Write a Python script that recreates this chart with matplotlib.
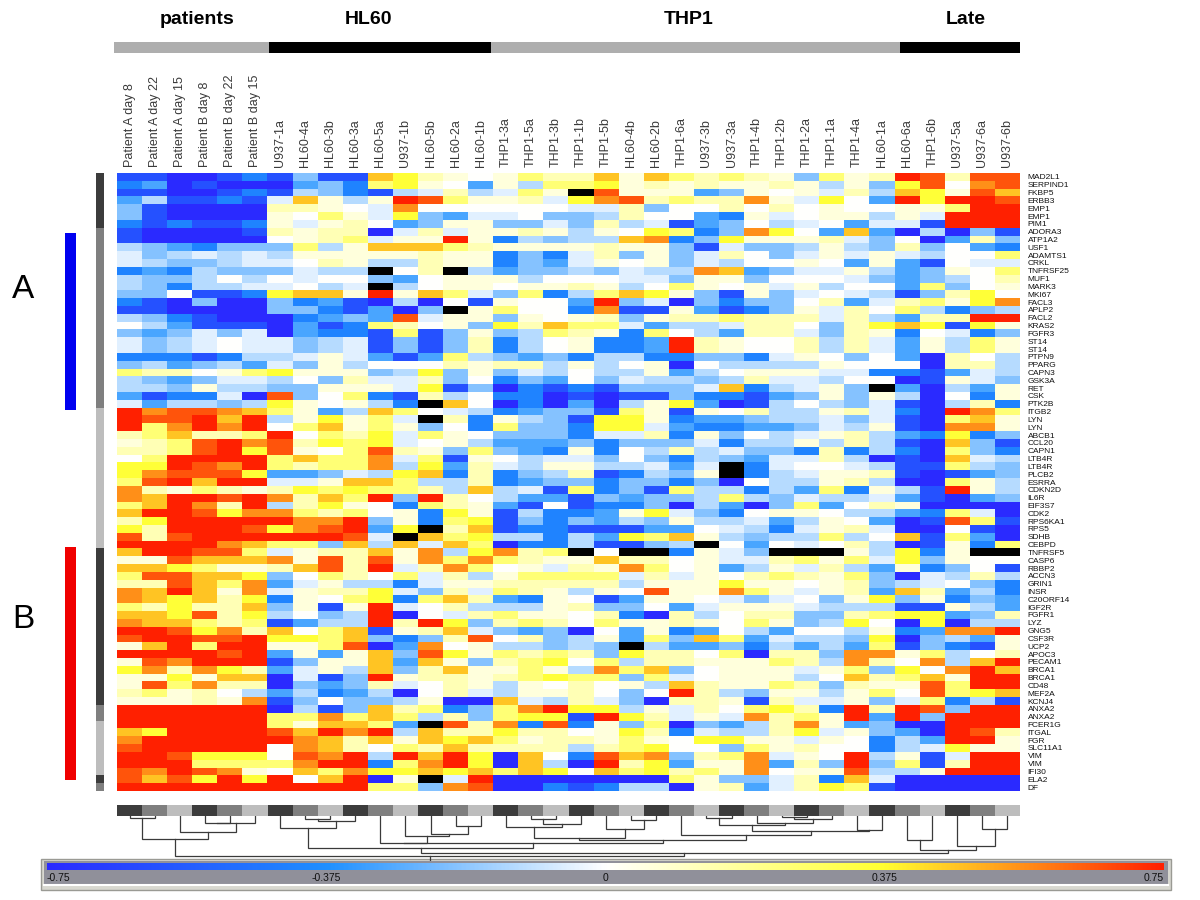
#!/usr/bin/env python3
"""Expression heatmap with sample dendrogram and colour scale."""
import matplotlib
matplotlib.use("Agg")
import matplotlib.pyplot as plt
import numpy as np
from matplotlib.colors import LinearSegmentedColormap
from matplotlib.patches import Rectangle

plt.rcParams["font.family"] = ["Liberation Sans", "DejaVu Sans"]

W, H = 1200, 900

SAMPLES = [
    "Patient A day 8", "Patient A day 22", "Patient A day 15",
    "Patient B day 8", "Patient B day 22", "Patient B day 15",
    "U937-1a", "HL60-4a", "HL60-3b", "HL60-3a", "HL60-5a", "U937-1b",
    "HL60-5b", "HL60-2a", "HL60-1b", "THP1-3a", "THP1-5a", "THP1-3b",
    "THP1-1b", "THP1-5b", "HL60-4b", "HL60-2b", "THP1-6a", "U937-3b",
    "U937-3a", "THP1-4b", "THP1-2b", "THP1-2a", "THP1-1a", "THP1-4a",
    "HL60-1a", "HL60-6a", "THP1-6b", "U937-5a", "U937-6a", "U937-6b",
]

GENES = [
    "MAD2L1", "SERPIND1", "FKBP5", "ERBB3", "EMP1", "EMP1", "PIM1", "ADORA3",
    "ATP1A2", "USF1", "ADAMTS1", "CRKL", "TNFRSF25", "MUF1", "MARK3", "MKI67",
    "FACL3", "APLP2", "FACL2", "KRAS2", "FGFR3", "ST14", "ST14", "PTPN9",
    "PPARG", "CAPN3", "GSK3A", "RET", "CSK", "PTK2B", "ITGB2", "LYN", "LYN",
    "ABCB1", "CCL20", "CAPN1", "LTB4R", "LTB4R", "PLCB2", "ESRRA", "CDKN2D",
    "IL6R", "EIF3S7", "CDK2", "RPS6KA1", "RPS5", "SDHB", "CEBPD", "TNFRSF5",
    "CASP6", "RBBP2", "ACCN3", "GRIN1", "INSR", "C20ORF14", "IGF2R", "FGFR1",
    "LYZ", "GNG5", "CSF3R", "UCP2", "APOC3", "PECAM1", "BRCA1", "BRCA1",
    "CD48", "MEF2A", "KCNJ4", "ANXA2", "ANXA2", "FCER1G", "ITGAL", "FGR",
    "SLC11A1", "VIM", "VIM", "IFI30", "ELA2", "DF",
]

# one letter per cell, X = missing (black)
LEVELS = {
    "A": -0.75, "B": -0.6, "C": -0.42, "D": -0.3, "E": -0.2, "F": -0.12, "G": -0.05,
    "0": 0.0, "1": 0.06, "2": 0.13, "3": 0.25, "4": 0.36, "5": 0.47, "6": 0.56,
    "7": 0.66, "8": 0.75, "X": np.nan,
}

HEAT_ROWS = [
    "BBAABCBEBB54 210132251532 321E31287277",
    "CDABAAADEC34 10D1F3341212 1121F1E47067",
    "BBAABCBFECBF G2FG31X7111D E101G2F54175",
    "DFBBCBG51F18 73112G467232 261G40D84887",
    "EBAAAA2210G6 000000GG2E00 202010011388",
    "EBAAAA1031G4 EDGG0EEF200D C1G011F1G888",
    "CBCBBC1G120D E11EEGE2FGBD E0FG0DGGB888",
    "BAAAAB2122AG 2G1121F1043C E640D5DAFAEB",
    "BAAAAA0123G1 181CFEFF56CE 41112GE0AD2E",
    "FEDCEEE3F155 5321111211EB GEEF1FE2E0DC",
    "GEFGFGF11111 211CECG2E1EG 20EG1G1GF003",
    "GFEEFGG021FF 211CEDG101EG F0010D1DB0GG",
    "CDCFEEEGFFX0 2XFDEEFEGFF6 5DEGG1FDE103",
    "FEEF0F0G00ED 0111F000GGE1 1E000GEDEF02",
    "FECFFGG0FGXF 01101121F031 01G1F00D3E01",
    "EE0BBC455181 53GE3CF3541E B1EG0GFBE240",
    "CBAEAAECDBAF A0B100D8EGAE CEE02DG23146",
    "BBAAAAEECBDA EX1300C6BB1D BCE1G203FCEF",
    "FECBAAACDED7 G11E1012E122 3222G2FD2288",
    "0FDBBBADBC32 01E42533GDFF G220E2454B41",
    "EDEGEGADCCB3 BE1EF321C30F D22GE21C0GCE",
    "GEFG0GGEFGBE BE2CF01CCD82 1002F2GD1F31",
    "GEFG0GGEFGBE BE2CF01CCD82 1002F2GD1F31",
    "CCCBCFFG1GDB D3FEDECFFCCE ECG10E0DA20F",
    "EFDEFDGE1F00 02122F1F01A0 FFFF1000A22F",
    "3220134111EF 4E1EGF0FF1DF 0111GGCCBDGF",
    "FEDEGGF0E2GG 2E0CED0EGFFE F2GGF00AB1GE",
    "FFE1FFEE111G 4BEACBCBEEEG 5CFG1EXDAFD1",
    "DBCCGA7E03CB 2F0CCABABBEC CBDE1E1FA0C1",
    "GDFFEF4101FC X50ACADAF14D ABF0FEGBAF2C",
    "86776531DF53 0GFCDEEB31B1 02FF12GCA863",
    "877858F1413G X2C1FEB441CD DEFFGEGBA351",
    "836868035131 E0C3EEC44GDC CDDEGF1BA661",
    "23522380324G 310EEECGG2C1 E0FG12FDC4CE",
    "12378672434G 01FDDDECEEEG CFF1F2FBA5EB",
    "223784710372 1E3EDC1C0F2F GEEC2CFCA3EC",
    "03888835336G 3B10FGGE0ECF EDGG2FABA5GF",
    "44876832336F 4D2GF11FFGDG XCG00GFBB3FE",
    "467774DDEGF4 5C2CEF2BCFE1 XCFG112BABDE",
    "378588GG1553 FF2CDEECEECE A0FF12FAA31F",
    "621321243433 2F5FGB3CEB3F FCFD3C1FB81F",
    "65887862538E 820FDDBEDEEF 3FEGFFGDBADE",
    "358628F2410C 321DB0BCCEAF DAE3D021AAAA",
    "588746632301 C41BFCCD14GE C0110FFDC3GA",
    "2488888668E1 C34BECEDFE1F FGDF10DAB73B",
    "4288874678D4 X25BCCBBBDD0 GFCG12GAA0BA",
    "7278888887GX 534FFCFD4351 FEFF3F05B3DA",
    "88886533E5F5 G53ACCFBBEFX 0D0G02FAB1C3",
    "588773G12251 6F4623X0XXC1 GEXXX1F4C1XX",
    "117555617271 636321152201 GG2313G4E100",
    "55431125728G 26301G216301 DF1G2FD1CE0B",
    "377554E03203 G2F13333G2G1 023213EAGF2F",
    "227536DG1FFC G1122222F111 411012EFG0EC",
    "658516G1224G E2G321F10711 631G12D52DFC",
    "654524C1034C 352DC10BD110 GEG0E14E1CED",
    "324225E1B18G 02FFF12EE0DG 111GFFFBB1FD",
    "554724F0EF8A 0G231102CA2F 022EE2344DE2",
    "655323BDFF82 84E232031121 031EF40A4AFF",
    "8874625035B1 25GEDEA0D1CD 0FD00F1CD668",
    "7887784435EC E2702EF1D3E5 3DGFFE4AEFD1",
    "1583881137AD 601FFEFEXFDD ECFDFD3BECB1",
    "888878D1D15E 7413232E4220 3A22E6613F02",
    "176888BE115D 51E23403F221 1132F6206F58",
    "462642DG1F5E 251131F635E0 111G13E40685",
    "114155AGBE81 22123433E3G0 111F05235188",
    "173622AEDE2G 021F10201F52 1132E2117388",
    "23120FDFCDFA 02GF1120E082 FE11F1307345",
    "111216BE0EEF 1AA5GF2GEA22 1B2GG1EG3CFB",
    "888888AFBE52 3CE36844F1G2 0342C8287E88",
    "888888336353 F2E344B842G1 G62318D8E888",
    "88888831553D X726C7C1E3AE DF261DEAA888",
    "54888875868F 5224220142CG FF24G1EDA872",
    "688888865251 545312213104 411G10CFD881",
    "788888065203 252222F23400 E31200CFG411",
    "8874440768F8 584A50C756E2 36G108F1BG88",
    "8883333688C3 684A5FA824D1 16D2E8E3B288",
    "768761053644 545354053423 160117FF1888",
    "7574848058A1 XG8AAAAAAA31 EEG2C5GAAAAA",
    "888888888833 E67AACBCFFA1 2DG243BAAAAA",
]

# groups along the top
GROUP_LABELS = ["patients", "HL60", "THP1", "Late"]
GROUP_LABEL_X = [197, 369, 689, 966]
GROUP_BAR_EDGES = [114, 269, 491, 900, 1020]
GROUP_BAR_COLORS = ["#aeaeae", "#000000", "#aeaeae", "#000000"]

ROW_CLUSTER_SIZES = [7, 23, 18, 20, 2, 7, 1, 1]
CLUSTER_GREYS = ["#3c3c3c", "#7f7f7f", "#bdbdbd"]

# sample tree: (child, child, height); children 0-35 are samples, 36+ earlier merges
MERGES = [
    (0, 1, 2), (3, 4, 7.7), (37, 5, 8), (2, 38, 18), (36, 39, 26),
    (7, 8, 4), (41, 9, 6), (6, 42, 13.4),
    (13, 14, 11.5), (12, 44, 20.7), (11, 45, 23), (10, 46, 30.5),
    (16, 17, 4), (48, 18, 9.6), (15, 49, 12.6), (20, 21, 5), (19, 51, 14.6),
    (50, 52, 25), (23, 24, 2), (26, 27, 1), (55, 28, 3), (25, 56, 7.7),
    (54, 57, 10), (29, 30, 16.5), (58, 59, 17), (22, 60, 21.5), (53, 61, 28),
    (47, 62, 31.5), (43, 63, 36.4), (31, 32, 27), (34, 35, 15.3), (33, 66, 34.5),
    (65, 67, 39.5), (64, 68, 42.5), (40, 69, 46.4),
]

SCALE_COLORS = [(-0.75, "#2a2aff"), (-0.375, "#1e90ff"), (0.0, "#ffffff"),
                (0.375, "#ffff30"), (0.75, "#ff2000")]
SCALE_TICKS = [-0.75, -0.375, 0, 0.375, 0.75]
SCALE_TICK_LABELS = ["-0.75", "-0.375", "0", "0.375", "0.75"]


def px_axes(fig, left, top, right, bottom):
    ax = fig.add_axes([left / W, 1 - bottom / H, (right - left) / W, (bottom - top) / H])
    return ax


def main():
    rows = [r.replace(" ", "") for r in HEAT_ROWS]
    for i, r in enumerate(rows):
        assert len(r) == len(SAMPLES), f"row {i} has {len(r)} cells"
    assert len(rows) == len(GENES)
    data = np.array([[LEVELS[c] for c in r] for r in rows])

    stops = [((v + 0.75) / 1.5, c) for v, c in SCALE_COLORS]
    cmap = LinearSegmentedColormap.from_list("expr", stops, N=256)
    cmap.set_bad("black")

    fig = plt.figure(figsize=(W / 100, H / 100), dpi=100)

    # page furniture in pixel coordinates
    page = fig.add_axes([0, 0, 1, 1], zorder=0)
    page.set_xlim(0, W)
    page.set_ylim(H, 0)
    page.axis("off")
    for i in range(len(GROUP_LABELS)):
        left, right = GROUP_BAR_EDGES[i], GROUP_BAR_EDGES[i + 1]
        page.add_patch(Rectangle((left, 42), right - left, 11, color=GROUP_BAR_COLORS[i], lw=0))
    for label, x in zip(GROUP_LABELS, GROUP_LABEL_X):
        page.text(x, 20, label, ha="center", va="center", fontsize=14, fontweight="bold")
    page.text(23, 289, "A", ha="center", va="center", fontsize=24)
    page.text(23, 620, "B", ha="center", va="center", fontsize=24)
    page.add_patch(Rectangle((65, 233), 11, 177, color="#0000f0", lw=0))
    page.add_patch(Rectangle((65, 547), 11, 233, color="#f00000", lw=0))

    # colour scale panel
    page.add_patch(Rectangle((41, 859), 1130, 31, facecolor="#d8d8d0", edgecolor="#9a9a94", lw=1))
    page.add_patch(Rectangle((44, 861), 1124, 23, facecolor="#90909a", edgecolor="none"))
    page.plot([44, 1168], [884.5, 884.5], color="white", lw=1.5)

    # main heatmap
    ax = px_axes(fig, 117, 173, 1020, 791)
    ax.imshow(data, cmap=cmap, vmin=-0.75, vmax=0.75, aspect="auto", interpolation="nearest")
    ax.set_xticks(range(len(SAMPLES)))
    ax.set_xticklabels(SAMPLES, rotation=90, fontsize=9, color="#3a3a3a")
    ax.xaxis.tick_top()
    ax.set_yticks(range(len(GENES)))
    ax.set_yticklabels(GENES, fontsize=6, color="#111111")
    ax.yaxis.tick_right()
    ax.tick_params(length=0, top=False, right=False)
    ax.tick_params(axis="y", pad=5.5)
    ax.tick_params(axis="x", pad=4)
    for spine in ax.spines.values():
        spine.set_visible(False)

    # row cluster strip, same row scale as the heatmap
    side = px_axes(fig, 96, 173, 104, 791)
    start = 0
    for i, size in enumerate(ROW_CLUSTER_SIZES):
        side.barh(start + size / 2 - 0.5, 1, height=size, color=CLUSTER_GREYS[i % 3])
        start += size
    side.set_ylim(len(GENES) - 0.5, -0.5)
    side.set_xlim(0, 1)
    side.axis("off")

    # sample cluster strip
    strip = px_axes(fig, 117, 805, 1020, 816)
    strip.bar(range(len(SAMPLES)), 1, width=1,
              color=[CLUSTER_GREYS[i % 3] for i in range(len(SAMPLES))])
    strip.set_xlim(-0.5, len(SAMPLES) - 0.5)
    strip.set_ylim(0, 1)
    strip.axis("off")

    # dendrogram hanging under the strip
    tree = px_axes(fig, 117, 816, 1020, 861)
    tree.set_xlim(-0.5, len(SAMPLES) - 0.5)
    top = 51.7
    tree.set_ylim(top, 0)
    tree.axis("off")
    xs = {i: float(i) for i in range(len(SAMPLES))}
    ys = {i: 0.0 for i in range(len(SAMPLES))}
    node = len(SAMPLES)
    for a, b, h in MERGES:
        tree.plot([xs[a], xs[a], xs[b], xs[b]], [ys[a], h, h, ys[b]],
                  color="#3a3a3a", lw=0.9, solid_joinstyle="miter")
        xs[node] = (xs[a] + xs[b]) / 2
        ys[node] = h
        node += 1
    tree.plot([xs[node - 1]] * 2, [ys[node - 1], top], color="#3a3a3a", lw=0.9)

    # colour scale
    scale = px_axes(fig, 47, 863, 1164, 870)
    gradient = np.linspace(-0.75, 0.75, 512)[None, :]
    scale.imshow(gradient, cmap=cmap, vmin=-0.75, vmax=0.75, aspect="auto",
                 extent=[-0.75, 0.75, 0, 1], interpolation="bilinear")
    scale.axis("off")
    scale.set_xlim(-0.75, 0.75)
    for v, label in zip(SCALE_TICKS, SCALE_TICK_LABELS):
        ha = "left" if v == -0.75 else ("right" if v == 0.75 else "center")
        scale.annotate(label, (v, 0), xytext=(0, -2.5), textcoords="offset points",
                       ha=ha, va="top", fontsize=7.5, color="#101010", annotation_clip=False)

    fig.savefig("out.png", dpi=100)
    plt.close(fig)


if __name__ == "__main__":
    main()
